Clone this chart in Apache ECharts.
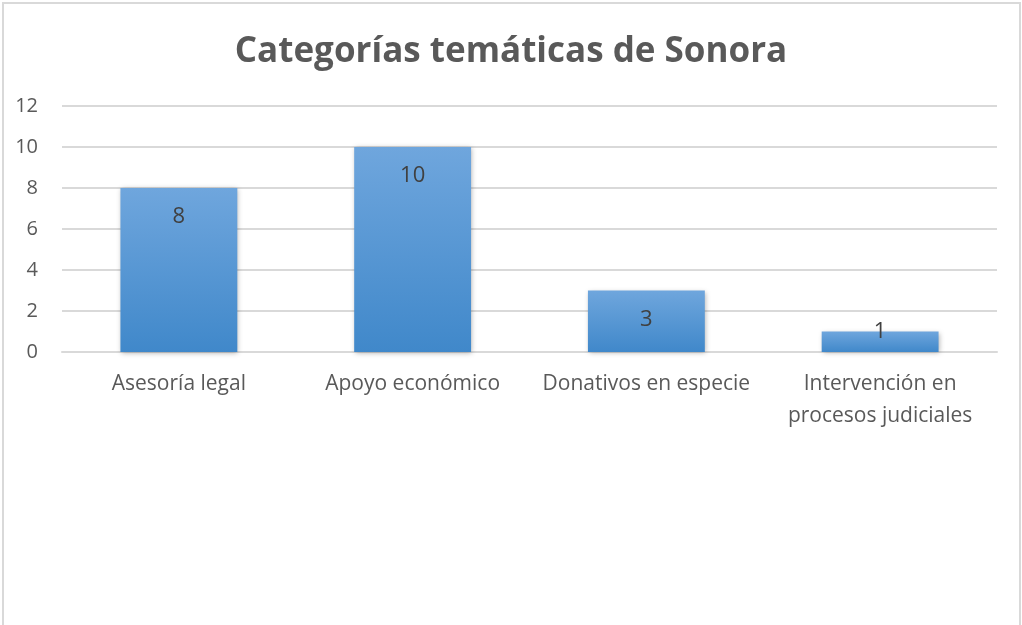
<!DOCTYPE html>
<html>
<head>
<meta charset="utf-8">
<script src="https://cdn.jsdelivr.net/npm/echarts@6/dist/echarts.min.js"></script>
<style>
  html, body { margin: 0; padding: 0; background: #fff; }
  #frame {
    position: absolute; left: 2px; top: 2px; width: 1015px; height: 640px;
    border: 2px solid #d9d9d9; border-bottom: none;
  }
  #chart { position: absolute; left: 0; top: 0; width: 1022px; height: 625px; }
</style>
</head>
<body>
<div id="frame"></div>
<div id="chart"></div>
<script>
const categories = [
  'Asesoría legal',
  'Apoyo económico',
  'Donativos en especie',
  'Intervención en\nprocesos judiciales'
];
const values = [8, 10, 3, 1];
const yTicks = { min: 0, max: 12, interval: 2 };

// short bars get their label pushed up over the bar top, like the original
const barData = values.map(v => v < 2
  ? { value: v, label: { position: 'top', distance: -11 } }
  : v);

const chart = echarts.init(document.getElementById('chart'));
chart.setOption({
  title: {
    text: 'Categorías temáticas de Sonora',
    left: 'center',
    top: 30,
    textStyle: { fontFamily: 'Open Sans', fontSize: 35, fontWeight: 'bold', color: '#595959' }
  },
  grid: { left: 62, right: 25, top: 106, bottom: 273 },
  xAxis: {
    type: 'category',
    data: categories,
    axisLine: { lineStyle: { color: '#d9d9d9', width: 2 } },
    axisTick: { show: false },
    axisLabel: {
      margin: 16,
      color: '#595959',
      fontFamily: 'Open Sans',
      fontSize: 21,
      lineHeight: 32,
      interval: 0
    }
  },
  yAxis: {
    type: 'value',
    min: yTicks.min,
    max: yTicks.max,
    interval: yTicks.interval,
    axisLine: { show: false },
    axisTick: { show: false },
    axisLabel: { margin: 24, color: '#595959', fontFamily: 'Open Sans', fontSize: 20 },
    splitLine: { lineStyle: { color: '#d9d9d9', width: 2 } }
  },
  series: [{
    type: 'bar',
    data: barData,
    barWidth: '50%',
    itemStyle: {
      color: new echarts.graphic.LinearGradient(0, 0, 0, 1, [
        { offset: 0, color: '#6fa6dd' },
        { offset: 1, color: '#4088ca' }
      ]),
      shadowBlur: 5,
      shadowColor: 'rgba(0,0,0,0.3)',
      shadowOffsetX: 1,
      shadowOffsetY: 1
    },
    label: {
      show: true,
      position: 'insideTop',
      distance: 18,
      color: '#404040',
      fontFamily: 'Open Sans',
      fontSize: 22
    }
  }]
});
</script>
</body>
</html>
